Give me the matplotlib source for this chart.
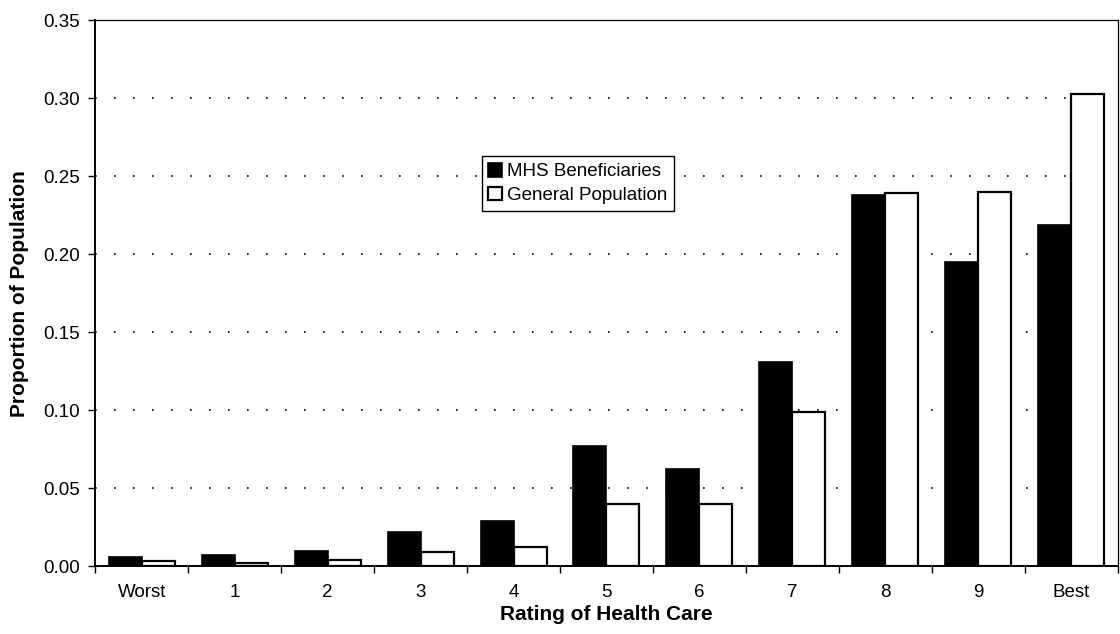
import numpy as np
import matplotlib
matplotlib.use("Agg")
import matplotlib.pyplot as plt

categories = ["Worst", "1", "2", "3", "4", "5", "6", "7", "8", "9", "Best"]
mhs = [0.006, 0.007, 0.010, 0.022, 0.029, 0.077, 0.062, 0.131, 0.238, 0.195, 0.219]
general = [0.003, 0.002, 0.004, 0.009, 0.012, 0.040, 0.040, 0.099, 0.239, 0.240, 0.303]
yticks = [0.00, 0.05, 0.10, 0.15, 0.20, 0.25, 0.30, 0.35]

plt.rcParams["font.family"] = ["Liberation Sans", "DejaVu Sans"]

fig = plt.figure(figsize=(11.2, 6.34), dpi=100)
ax = fig.add_axes([0.085, 0.107, 0.913, 0.861])

x = np.arange(len(categories))
w = 0.355
ax.bar(x - w / 2, mhs, w, color="black", edgecolor="black", linewidth=1.2,
       label="MHS Beneficiaries", zorder=3)
ax.bar(x + w / 2, general, w, color="white", edgecolor="black", linewidth=1.6,
       label="General Population", zorder=3)

ax.set_xlim(-0.5, len(categories) - 0.5)
ax.set_ylim(0, 0.35)
ax.set_yticks(yticks)
ax.set_yticklabels([f"{v:.2f}" for v in yticks], fontsize=13.5)
ax.set_xticks(x)
ax.set_xticklabels(categories, fontsize=13.5)
ax.tick_params(axis="x", which="major", length=0, pad=13)
ax.set_xticks(np.arange(len(categories) + 1) - 0.5, minor=True)
ax.tick_params(axis="x", which="minor", length=5, direction="out", width=1)
ax.tick_params(axis="y", length=5, direction="out", width=1, pad=6)

for v in yticks[1:-1]:
    ax.axhline(v, color="black", linewidth=1.2, linestyle=(0, (1, 10.4)), zorder=1)

for s in ["left", "bottom"]:
    ax.spines[s].set_linewidth(1.4)
for s in ["top", "right"]:
    ax.spines[s].set_linewidth(0.9)

ax.set_xlabel("Rating of Health Care", fontsize=15, fontweight="bold", labelpad=3)
ax.set_ylabel("Proportion of Population", fontsize=15, fontweight="bold", labelpad=10)

leg = ax.legend(loc="upper left", bbox_to_anchor=(0.378, 0.751), fontsize=13.5,
                frameon=True, fancybox=False, edgecolor="black", framealpha=1,
                handlelength=0.75, handleheight=0.75, handletextpad=0.25,
                borderpad=0.35, labelspacing=0.35, borderaxespad=0)
leg.get_frame().set_linewidth(1.0)

fig.savefig("out.png", dpi=100)
